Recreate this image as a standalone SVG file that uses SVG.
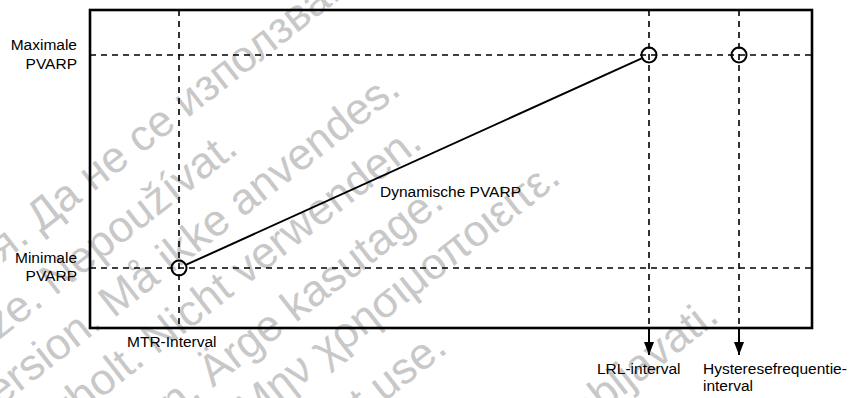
<svg xmlns="http://www.w3.org/2000/svg" width="853" height="398" viewBox="0 0 853 398">
<style>
.wm{font-family:"Liberation Sans",Arial,sans-serif;font-size:44px;fill:#c8c8c8;text-anchor:end}
.lbl{font-family:"Liberation Sans",Arial,sans-serif;font-size:15.5px;fill:#000}
.r{text-anchor:end}
.frame{fill:none;stroke:#000;stroke-width:2.6}
.dash{stroke:#000;stroke-width:1.6;stroke-dasharray:6 5;fill:none}
.solid{stroke:#000;stroke-width:2;fill:none}
.pt{fill:none;stroke:#000;stroke-width:2}
</style>
<defs>
<marker id="ah" markerUnits="userSpaceOnUse" markerWidth="13" markerHeight="10" refX="13" refY="5" orient="auto">
<path d="M0,0 L13,5 L0,10 z" fill="#000"/>
</marker>
</defs>
<rect width="853" height="398" fill="#fff"/>
<g id="watermark">
<text class="wm" transform="translate(343,-3) rotate(-38)">Остаряла версия. Да не се използва.</text>
<text class="wm" transform="translate(239.9,151.9) rotate(-38)">Zastaralá verze. Nepoužívat.</text>
<text class="wm" transform="translate(402.6,92.9) rotate(-38)">Forældet version. Må ikke anvendes.</text>
<text class="wm" transform="translate(424.2,146.2) rotate(-38)">Version überholt. Nicht verwenden.</text>
<text class="wm" transform="translate(445.9,205.9) rotate(-38)">Aegunud versioon. Ärge kasutage.</text>
<text class="wm" transform="translate(562.6,181.2) rotate(-38)">Παλιά έκδοση. Μην χρησιμοποιείτε.</text>
<text class="wm" transform="translate(449.2,351.2) rotate(-38)">Outdated version. Do not use.</text>
<text class="wm" transform="translate(720.9,319.6) rotate(-38)">Zastarjela verzija. Nemojte upotrebljavati.</text>
</g>
<g id="frame"><rect class="frame" x="90" y="10" width="722" height="318"/></g>
<g id="gridlines">
<line class="dash" x1="90" y1="55" x2="812" y2="55"/>
<line class="dash" x1="90" y1="268" x2="812" y2="268"/>
<line class="dash" x1="179" y1="10" x2="179" y2="328"/>
<line class="dash" x1="649" y1="10" x2="649" y2="328"/>
<line class="dash" x1="739" y1="10" x2="739" y2="328"/>
</g>
<g id="connectors">
<line class="solid" x1="186.3" y1="264.7" x2="641.7" y2="58.3"/>
<line class="solid" x1="649" y1="328" x2="649" y2="355" marker-end="url(#ah)"/>
<line class="solid" x1="739" y1="328" x2="739" y2="355" marker-end="url(#ah)"/>
</g>
<g id="point-min"><circle class="pt" cx="179" cy="268" r="7.5"/></g>
<g id="point-max-lrl"><circle class="pt" cx="649" cy="55" r="7.5"/></g>
<g id="point-max-hyst"><circle class="pt" cx="739" cy="55" r="7.5"/></g>
<g id="label-max"><text class="lbl r" x="77" y="50">Maximale</text><text class="lbl r" x="77" y="68.5">PVARP</text></g>
<g id="label-min"><text class="lbl r" x="77" y="262.5">Minimale</text><text class="lbl r" x="77" y="281">PVARP</text></g>
<g id="label-mtr"><text class="lbl" x="127" y="347">MTR-Interval</text></g>
<g id="label-dyn"><text class="lbl" x="380" y="197">Dynamische PVARP</text></g>
<g id="label-lrl"><text class="lbl" x="597" y="374">LRL-interval</text></g>
<g id="label-hyst"><text class="lbl" x="703" y="374">Hysteresefrequentie-</text><text class="lbl" x="703" y="391">interval</text></g>
</svg>
